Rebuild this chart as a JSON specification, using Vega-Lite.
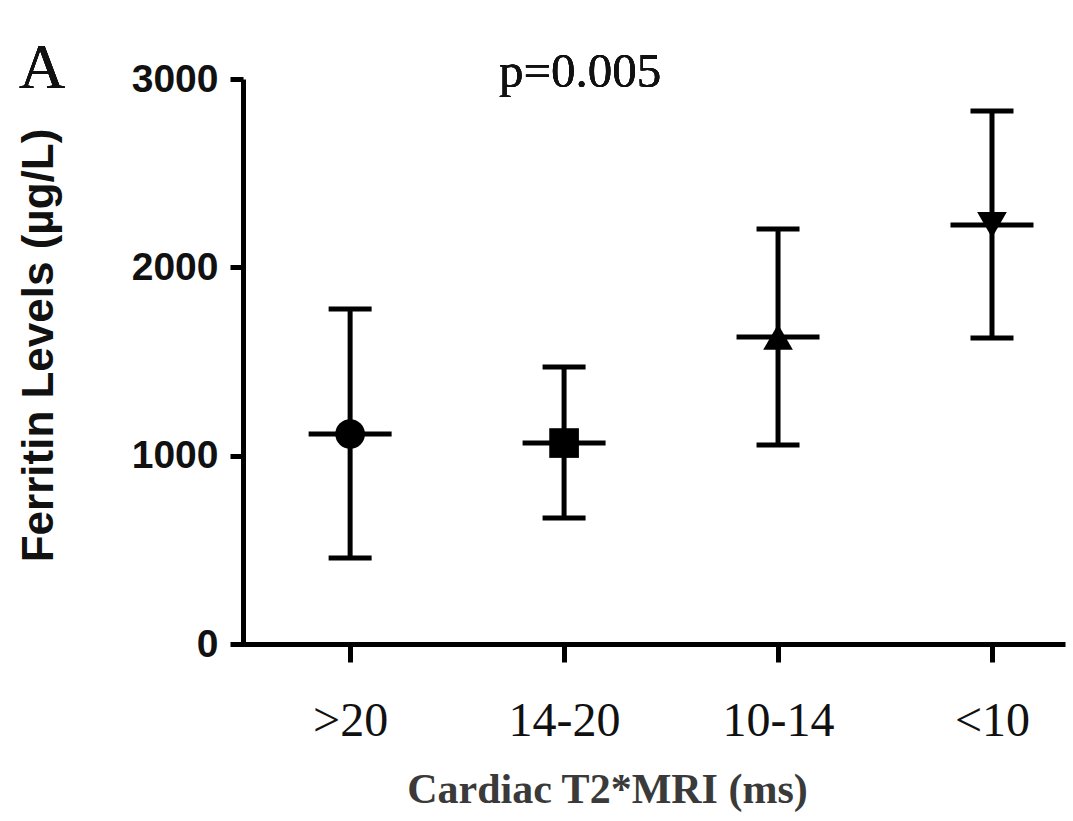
{
  "$schema": "https://vega.github.io/schema/vega-lite/v6.json",
  "autosize": "none",
  "width": 834,
  "height": 565,
  "padding": {"left": 231, "top": 79, "right": 8, "bottom": 177},
  "background": "white",
  "config": {"view": {"stroke": null}},
  "data": {
    "values": [
      {"group": ">20", "mean": 1115, "lo": 457, "hi": 1779},
      {"group": "14-20", "mean": 1067, "lo": 669, "hi": 1471},
      {"group": "10-14", "mean": 1630, "lo": 1057, "hi": 2204},
      {"group": "<10", "mean": 2225, "lo": 1625, "hi": 2830}
    ]
  },
  "encoding": {
    "x": {
      "field": "group",
      "type": "ordinal",
      "sort": [">20", "14-20", "10-14", "<10"],
      "scale": {"type": "point", "padding": 0.449, "align": 0.62},
      "axis": {
        "title": "Cardiac T2*MRI (ms)",
        "labelAngle": 0,
        "domainColor": "black",
        "domainWidth": 5,
        "tickColor": "black",
        "tickWidth": 5,
        "tickSize": 18,
        "labelPadding": 35,
        "labelFont": "Liberation Serif",
        "labelFontSize": 48,
        "labelColor": "#111111",
        "titleFont": "Liberation Serif",
        "titleFontSize": 42,
        "titleFontWeight": "bold",
        "titleColor": "#3a3a3a",
        "titleBaseline": "alphabetic",
        "titleAlign": "center",
        "titleAnchor": "start",
        "titleX": 376,
        "titleY": 158
      }
    }
  },
  "layer": [
    {
      "mark": {"type": "rule", "strokeWidth": 5, "color": "black"},
      "encoding": {
        "y": {
          "field": "lo",
          "type": "quantitative",
          "scale": {"domain": [0, 3000], "nice": false},
          "axis": {
            "title": "Ferritin Levels (µg/L)",
            "values": [0, 1000, 2000, 3000],
            "format": "d",
            "grid": false,
            "offset": -12,
            "domainColor": "black",
            "domainWidth": 5,
            "tickColor": "black",
            "tickWidth": 5,
            "tickSize": 13,
            "labelPadding": 12,
            "labelFont": "Liberation Sans",
            "labelFontSize": 39,
            "labelFontWeight": "bold",
            "labelColor": "#111111",
            "titleFont": "Liberation Sans",
            "titleFontSize": 44,
            "titleFontWeight": "bold",
            "titleColor": "#111111",
            "titleAngle": 270,
            "titleAlign": "center",
            "titleBaseline": "alphabetic",
            "titleX": -191,
            "titleY": 266
          }
        },
        "y2": {"field": "hi"}
      }
    },
    {
      "mark": {"type": "tick", "orient": "horizontal", "size": 43, "thickness": 5, "color": "black", "opacity": 1},
      "encoding": {"y": {"field": "lo", "type": "quantitative"}}
    },
    {
      "mark": {"type": "tick", "orient": "horizontal", "size": 43, "thickness": 5, "color": "black", "opacity": 1},
      "encoding": {"y": {"field": "hi", "type": "quantitative"}}
    },
    {
      "mark": {"type": "tick", "orient": "horizontal", "size": 83, "thickness": 5, "color": "black", "opacity": 1},
      "encoding": {"y": {"field": "mean", "type": "quantitative"}}
    },
    {
      "mark": {"type": "point", "filled": true, "color": "black", "opacity": 1, "size": 880},
      "encoding": {
        "y": {"field": "mean", "type": "quantitative"},
        "shape": {
          "field": "group",
          "type": "nominal",
          "scale": {"domain": [">20", "14-20", "10-14", "<10"], "range": ["circle", "square", "triangle-up", "triangle-down"]},
          "legend": null
        }
      }
    },
    {
      "mark": {"type": "text", "text": "p=0.005", "font": "Liberation Serif", "fontSize": 49, "align": "center", "baseline": "alphabetic", "dx": 16, "color": "#111111"},
      "encoding": {"x": {"datum": "14-20"}, "y": {"datum": 2957}}
    },
    {
      "mark": {"type": "text", "text": "A", "font": "Liberation Serif", "fontSize": 64, "align": "center", "baseline": "alphabetic", "dx": -308, "color": "#111111"},
      "encoding": {"x": {"datum": ">20"}, "y": {"datum": 2952}}
    }
  ]
}
